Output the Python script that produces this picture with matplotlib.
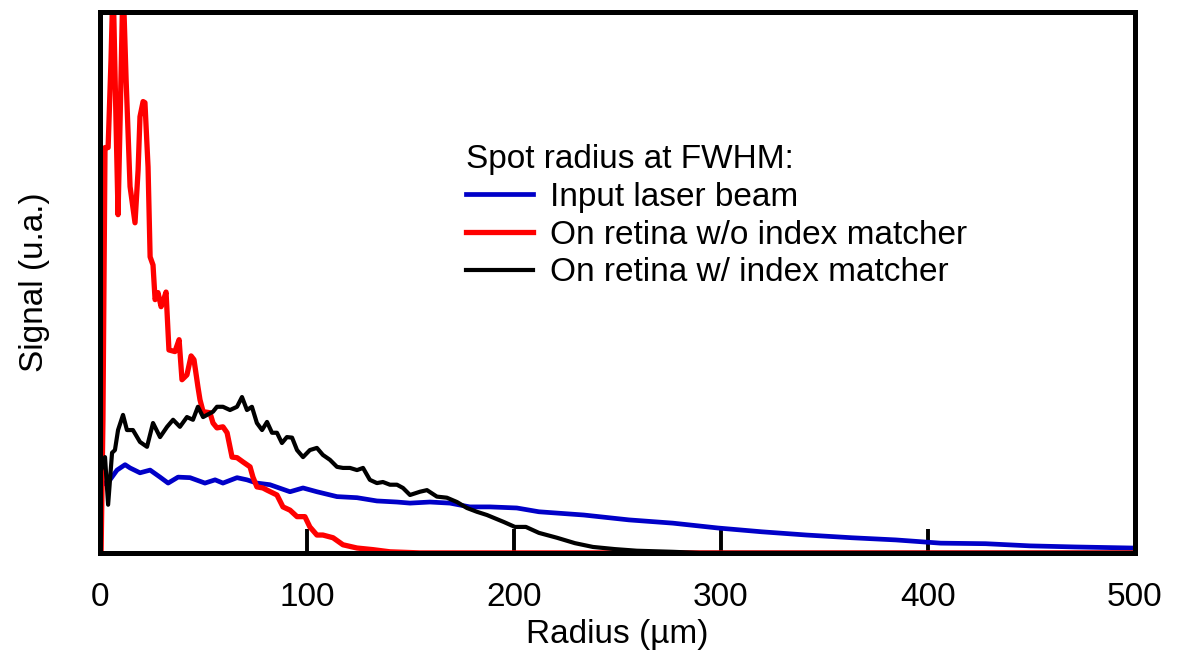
import numpy as np
import matplotlib
matplotlib.use("Agg")
from matplotlib import pyplot as plt

plt.rcParams['font.family'] = ['Liberation Sans', 'DejaVu Sans']

# radius (um) and signal (a.u.)
r_red = [0.5, 1.4, 2.4, 3.9, 5.3, 6.3, 7.7, 8.7, 9.7, 11.1, 12.6, 14.5, 16.9, 18.4, 19.3,
         20.8, 21.7, 23.2, 24.2, 25.6, 26.6, 28.0, 29.5, 30.4, 31.9, 33.3, 36.2, 38.2,
         39.6, 42.0, 44.0, 45.4, 47.3, 48.3, 49.8, 53.1, 54.6, 56.5, 59.4, 61.4, 63.8,
         66.2, 69.1, 72.5, 73.9, 75.8, 78.7, 80.7, 85.5, 88.4, 91.8, 95.2, 99.0, 101.4,
         104.8, 107.7, 112.6, 117.4, 124.2, 131.9, 140.1, 154.6, 500]
s_red = [0, 24.6, 74.9, 74.9, 91.1, 105.9, 80.0, 62.5, 80.0, 105.9, 87.4, 67.7, 61.0, 70.8,
         80.6, 83.4, 83.2, 71.3, 54.7, 53.2, 46.8, 48.1, 45.5, 46.4, 48.2, 37.5, 37.2, 39.4,
         32.0, 32.9, 36.4, 35.7, 30.7, 28.3, 26.1, 25.9, 24.0, 23.1, 23.3, 22.2, 17.7,
         17.6, 16.8, 15.9, 14.0, 12.2, 12.0, 11.6, 10.7, 8.5, 7.9, 6.7, 6.7, 4.8,
         3.3, 3.3, 2.8, 1.5, 0.9, 0.6, 0.2, 0, 0]

r_black = [0.5, 2.4, 3.9, 5.8, 7.2, 8.7, 11.1, 13.0, 15.9, 19.3, 22.7, 25.6, 29.0, 32.4,
           35.3, 38.6, 42.0, 44.9, 47.3, 49.8, 54.6, 56.5, 59.4, 62.8, 66.2, 68.6, 71.0,
           73.4, 75.8, 78.3, 80.7, 83.1, 85.5, 87.9, 90.3, 92.8, 95.2, 98.1, 101.4, 104.8,
           107.7, 111.1, 114.5, 117.4, 120.8, 124.2, 127.1, 130.4, 133.8, 136.7, 140.1,
           143.5, 146.4, 149.8, 154.6, 158.0, 162.8, 167.6, 172.5, 177.3, 182.1, 187.0,
           195.2, 200.5, 205.8, 212.1, 220.8, 229.5, 238.2, 248.8, 259.4, 276.8, 289.9, 500]
s_black = [15.3, 17.7, 8.9, 18.5, 19.0, 22.7, 25.5, 22.7, 22.7, 20.5, 19.6, 24.0, 21.4, 23.3,
           24.6, 23.3, 25.1, 24.6, 27.0, 25.1, 26.1, 27.0, 27.0, 26.4, 27.0, 28.8, 26.4,
           27.0, 24.0, 22.7, 24.2, 22.2, 22.2, 20.3, 21.4, 21.3, 19.0, 17.7, 19.0, 19.4,
           18.1, 17.2, 15.9, 15.7, 15.7, 15.3, 15.7, 13.5, 12.9, 13.1, 12.6,
           12.6, 12.0, 10.7, 11.3, 11.6, 10.4, 10.2, 9.4, 8.3, 7.6, 7.0,
           5.7, 4.8, 4.8, 3.7, 2.8, 1.8, 1.1, 0.7, 0.4, 0.2, 0, 0]

r_blue = [2.4, 4.8, 8.2, 12.1, 14.5, 19.3, 24.2, 29.0, 32.9, 37.7, 43.5, 50.7, 55.6, 59.4,
          66.2, 71.0, 75.8, 82.1, 91.8, 98.1, 104.8, 114.5, 124.2, 133.8, 143.5, 149.8,
          159.4, 169.1, 178.7, 188.4, 201.4, 212.1, 233.8, 255.6, 276.8, 298.6, 319.8,
          341.5, 363.3, 384.5, 406.3, 428.0, 449.3, 471.0, 499.0]
s_blue = [12.9, 13.5, 15.3, 16.3, 15.7, 14.8, 15.3, 14.0, 12.9, 14.0, 13.9, 12.9, 13.5, 12.9,
          13.9, 13.5, 12.9, 12.6, 11.3, 12.0, 11.3, 10.4, 10.2, 9.6, 9.4, 9.2,
          9.4, 9.2, 8.5, 8.5, 8.3, 7.6, 7.0, 6.1, 5.5, 4.6, 3.9,
          3.3, 2.8, 2.4, 1.8, 1.7, 1.3, 1.1, 0.9]

xticks = [0, 100, 200, 300, 400, 500]

fig = plt.figure(figsize=(11.77, 6.52), dpi=100)
ax = fig.add_axes([0.085, 0.152, 0.879, 0.83])

ax.plot(r_blue, s_blue, color='#0000c8', lw=3.4, label='Input laser beam')
ax.plot(r_red, s_red, color='#ff0000', lw=3.8, label='On retina w/o index matcher')
ax.plot(r_black, s_black, color='black', lw=3.0, label='On retina w/ index matcher')

ax.set_xlim(0, 500)
ax.set_ylim(0, 100)
ax.set_yticks([])
ax.set_xticks(xticks)
ax.set_xticklabels([str(v) for v in xticks], fontsize=24)
ax.tick_params(axis='x', direction='in', length=17, width=2.8, color='black', pad=21)

for sp in ax.spines.values():
    sp.set_linewidth(3.6)

ax.set_xlabel('Radius (µm)', fontsize=24, labelpad=4)
ax.set_ylabel('Signal (u.a.)', fontsize=24, labelpad=36)

leg = ax.legend(title='Spot radius at FWHM:', loc='upper left', bbox_to_anchor=(0.338, 0.786),
                frameon=False, fontsize=24, title_fontsize=24, handlelength=2.0,
                handletextpad=0.5, labelspacing=0.2, borderpad=0, alignment='left')

plt.savefig('out.png', dpi=100)
